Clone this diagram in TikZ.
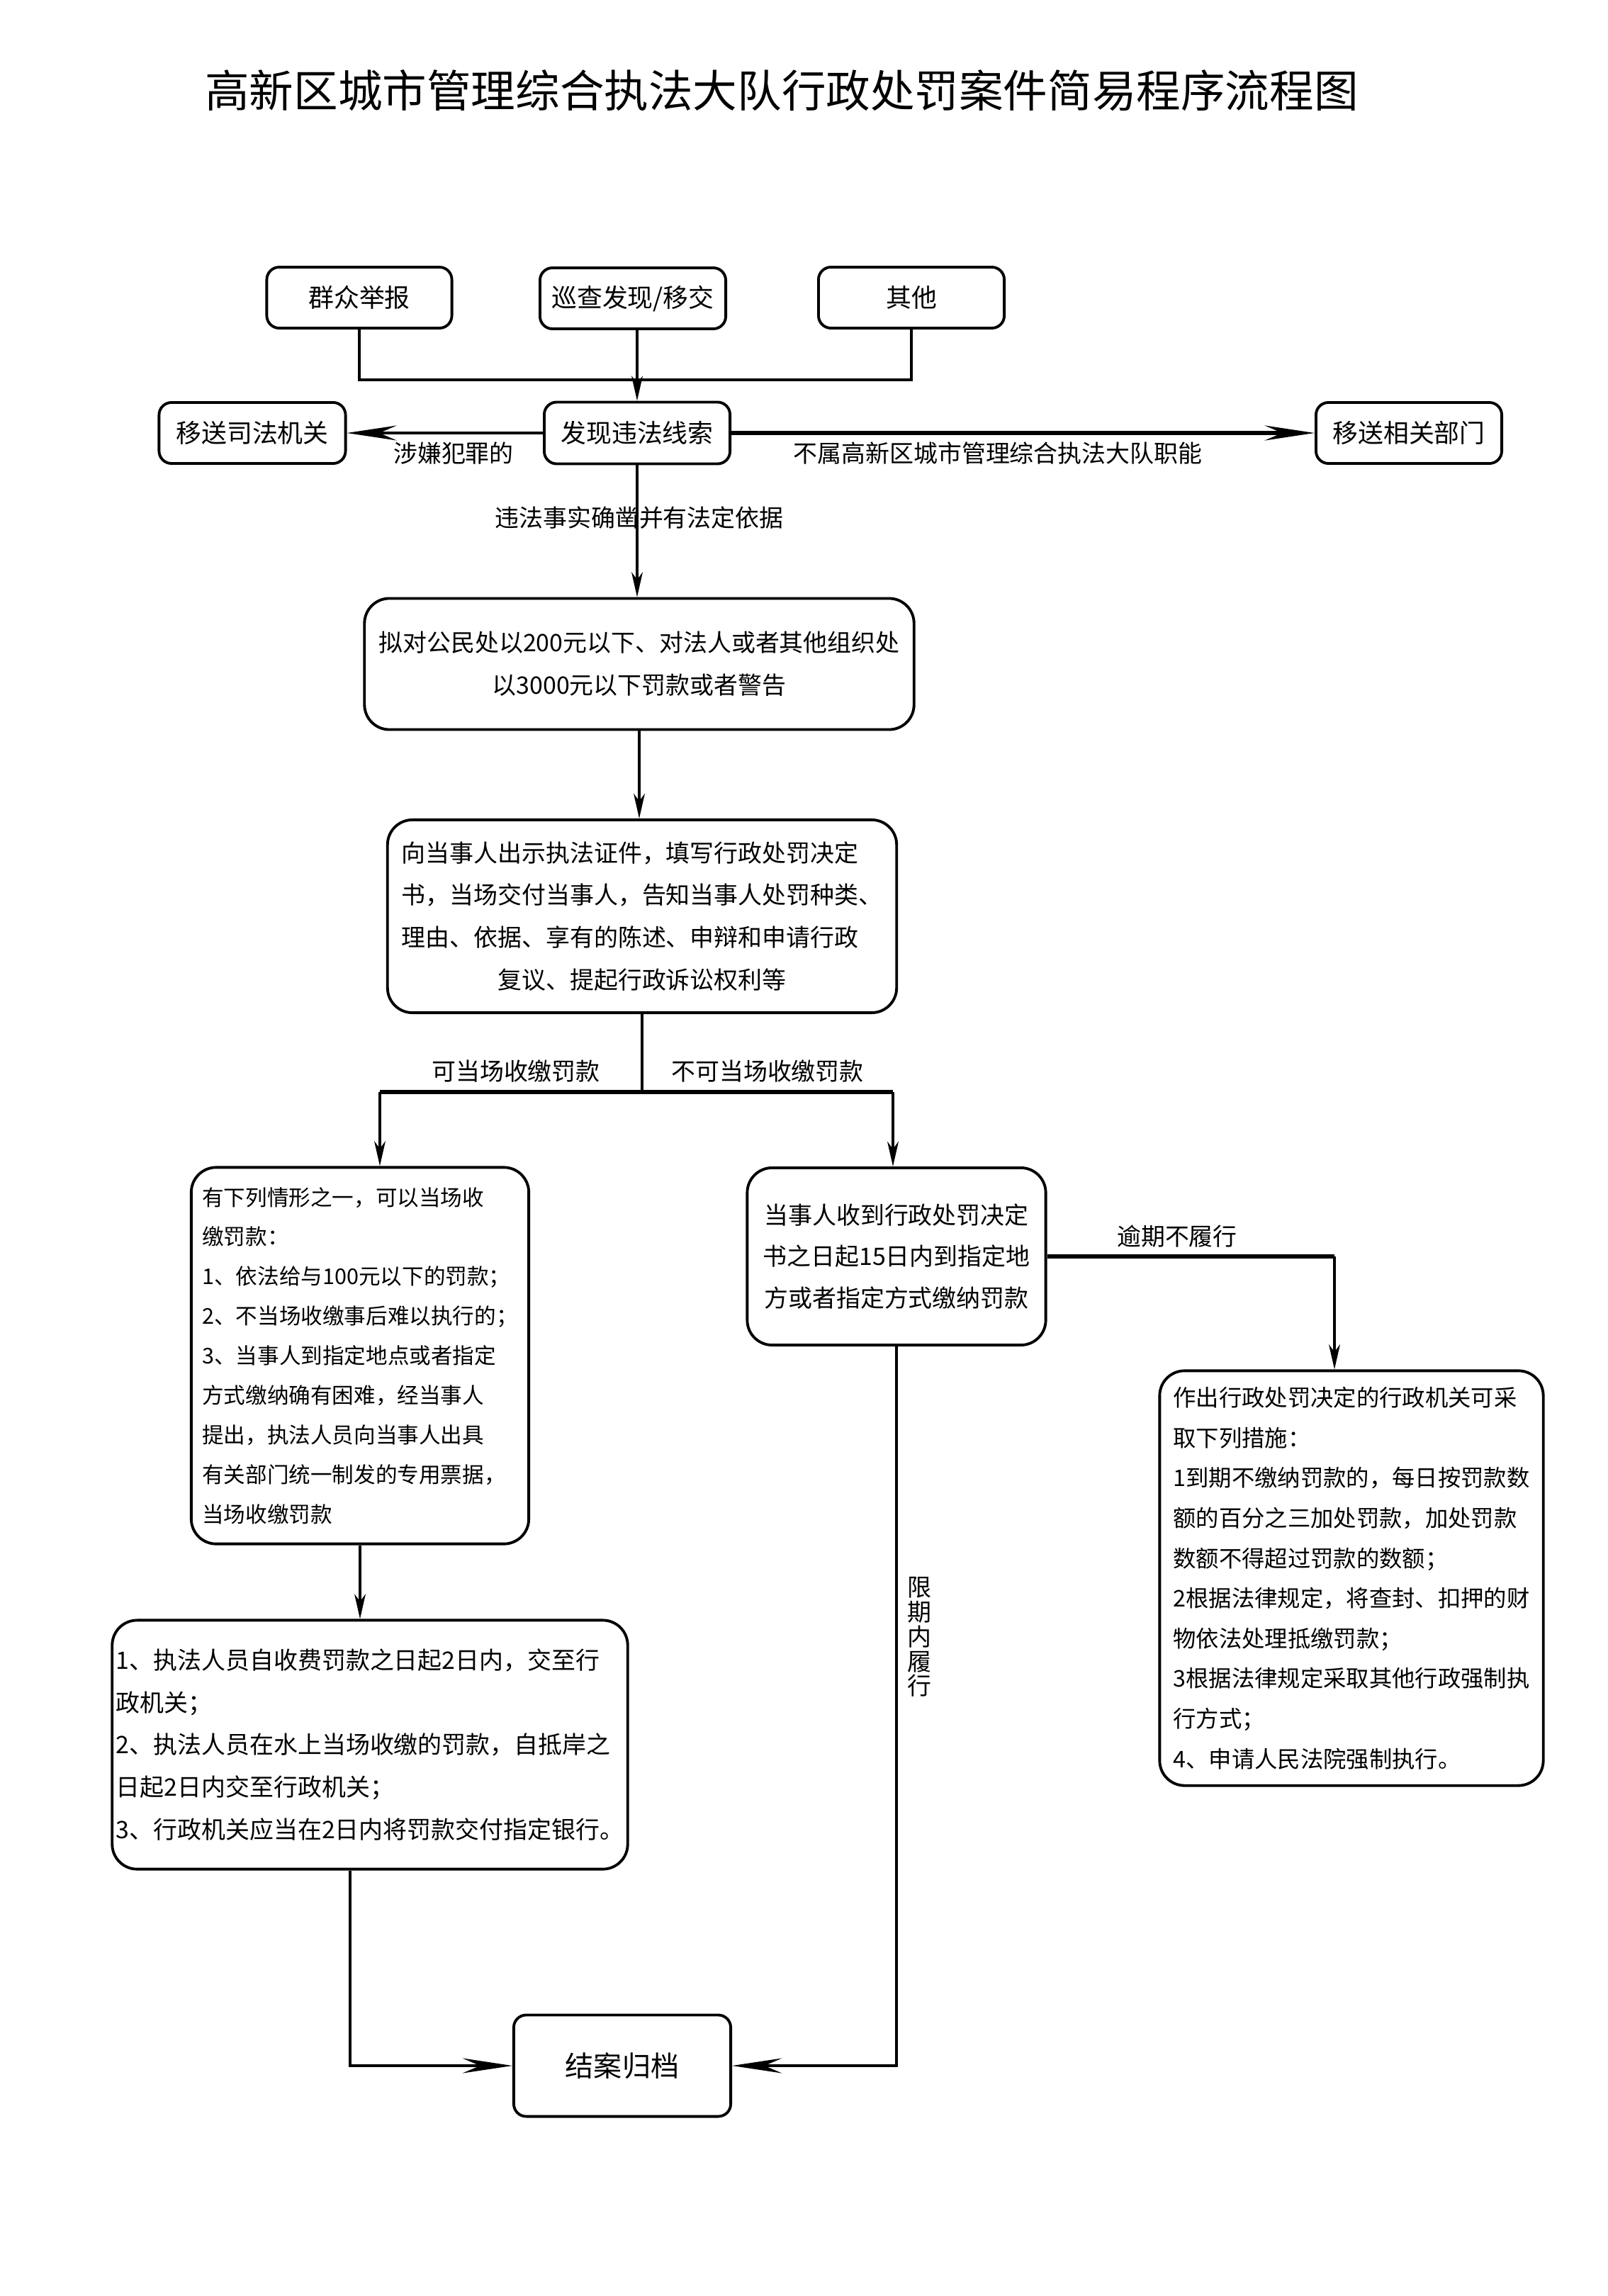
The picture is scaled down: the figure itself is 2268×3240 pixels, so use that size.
\documentclass[tikz,border=0pt]{standalone}
\usepackage{fontspec}
\usepackage{graphicx}
\newfontfamily\cjk{Noto Sans CJK SC}
\usetikzlibrary{arrows.meta}
\begin{document}
\begin{tikzpicture}[x=0.01cm,y=-0.01cm,
  box/.style={draw, line width=1.1pt, rounded corners=5pt, inner sep=0pt, font=\cjk\fontsize{10.2pt}{12pt}\selectfont},
  bigbox/.style={draw, line width=1.1pt, rounded corners=10pt, inner sep=0pt},
  lab/.style={inner sep=0pt, font=\cjk\fontsize{9.65pt}{12pt}\selectfont},
  ln/.style={line width=0.9pt},
  thk/.style={line width=1.7pt},
  arrS/.style={-{Stealth[length=10pt,width=4.5pt,inset=3pt]}},
  arrB/.style={-{Stealth[length=20pt,width=6pt,inset=7pt]}}
]
\useasboundingbox (0,0) rectangle (2268,3240);
\fill[white] (0,0) rectangle (2268,3240);

% title
\node[inner sep=0pt, font=\cjk\fontsize{17.8pt}{20pt}\selectfont] (title) at (1103,128) {高新区城市管理综合执法大队行政处罚案件简易程序流程图};

% top boxes
\node[box, minimum width=2.61cm, minimum height=0.86cm] (src1) at (507,420) {群众举报};
\node[box, minimum width=2.62cm, minimum height=0.86cm] (src2) at (893,421) {巡查发现/移交};
\node[box, minimum width=2.62cm, minimum height=0.86cm] (src3) at (1286,420) {其他};
\node[box, minimum width=2.62cm, minimum height=0.87cm] (find) at (899,611) {发现违法线索};
\node[box, minimum width=2.63cm, minimum height=0.86cm] (jud) at (356,611) {移送司法机关};
\node[box, minimum width=2.62cm, minimum height=0.86cm] (dept) at (1988,611) {移送相关部门};

% proposal box
\node[bigbox, minimum width=7.75cm, minimum height=1.85cm, align=center,
  font=\cjk\fontsize{9.65pt}{17pt}\selectfont] (prop) at (902,937)
  {拟对公民处以200元以下、对法人或者其他组织处\\以3000元以下罚款或者警告};

% notify box
\node[bigbox, minimum width=7.18cm, minimum height=2.72cm, align=left,
  font=\cjk\fontsize{9.65pt}{17pt}\selectfont] (notify) at (906,1293)
  {向当事人出示执法证件，填写行政处罚决定\\书，当场交付当事人，告知当事人处罚种类、\\理由、依据、享有的陈述、申辩和申请行政\\\hspace*{4em}复议、提起行政诉讼权利等};

% on-site box
\node[bigbox, minimum width=4.76cm, minimum height=5.31cm, align=left,
  font=\cjk\fontsize{8.7pt}{15.9pt}\selectfont] (onsite) at (508,1913)
  {有下列情形之一，可以当场收\\缴罚款：\\1、依法给与100元以下的罚款；\\2、不当场收缴事后难以执行的；\\3、当事人到指定地点或者指定\\方式缴纳确有困难，经当事人\\提出，执法人员向当事人出具\\有关部门统一制发的专用票据，\\当场收缴罚款};

% later payment box
\node[bigbox, minimum width=4.21cm, minimum height=2.50cm, align=center,
  font=\cjk\fontsize{9.65pt}{16.5pt}\selectfont] (later) at (1265,1773)
  {当事人收到行政处罚决定\\书之日起15日内到指定地\\方或者指定方式缴纳罚款};

% enforcement box
\node[bigbox, minimum width=5.41cm, minimum height=5.85cm, align=left,
  font=\cjk\fontsize{9.2pt}{16.1pt}\selectfont] (enforce) at (1907,2227)
  {作出行政处罚决定的行政机关可采\\取下列措施：\\1到期不缴纳罚款的，每日按罚款数\\额的百分之三加处罚款，加处罚款\\数额不得超过罚款的数额；\\2根据法律规定，将查封、扣押的财\\物依法处理抵缴罚款；\\3根据法律规定采取其他行政强制执\\行方式；\\4、申请人民法院强制执行。};

% remit box
\node[bigbox, minimum width=7.27cm, minimum height=3.51cm, align=left,
  font=\cjk\fontsize{9.65pt}{17pt}\selectfont] (remit) at (522,2462)
  {1、执法人员自收费罚款之日起2日内，交至行\\政机关；\\2、执法人员在水上当场收缴的罚款，自抵岸之\\日起2日内交至行政机关；\\3、行政机关应当在2日内将罚款交付指定银行。};

% close box
\node[box, minimum width=3.06cm, minimum height=1.43cm, font=\cjk\fontsize{11.4pt}{13pt}\selectfont] (close) at (878,2915) {结案归档};

% coordinates
\coordinate (jy) at (0,536);
\coordinate (by) at (0,1541);
\coordinate (bl) at (536,1541);
\coordinate (br) at (1260,1541);
\coordinate (ex) at (1883,0);
\coordinate (rx) at (494,0);

% connectors
\draw[ln] (src1.south) |- (find.north |- jy) -| (src3.south);
\draw[ln, arrS] (find.north |- src2.south) -- (find.north);
\draw[ln, arrB] (find.west) -- (jud.east);
\draw[thk, arrB] (find.east) -- (dept.west);
\draw[ln, arrS] (find.south) -- (find.south |- prop.north);
\draw[ln, arrS] (prop.south) -- (prop.south |- notify.north);
\draw[ln] (notify.south) -- (notify.south |- by);
\draw[thk] (bl) -- (br);
\draw[ln, arrS] (bl) -- (bl |- onsite.north);
\draw[ln, arrS] (br) -- (br |- later.north);
\draw[thk] (later.east) -- (later.east -| ex);
\draw[ln, arrS] (later.east -| ex) -- (ex |- enforce.north);
\draw[ln, arrS] (onsite.south) -- (onsite.south |- remit.north);
\draw[ln, arrB] (rx |- remit.south) |- (close.west);
\draw[ln, arrB] (later.south) |- (close.east);

% labels
\node[lab] (l1) at (640,640) {涉嫌犯罪的};
\node[lab] (l2) at (1408,640) {不属高新区城市管理综合执法大队职能};
\node[lab] (l3) at (902,731) {违法事实确凿并有法定依据};
\node[lab] (l4) at (728,1512) {可当场收缴罚款};
\node[lab] (l5) at (1083,1512) {不可当场收缴罚款};
\node[lab] (l6) at (1661,1745) {逾期不履行};
\node[lab, align=center, font=\cjk\fontsize{9.65pt}{9.9pt}\selectfont] (l7) at (1297,2310) {限\\期\\内\\履\\行};
\end{tikzpicture}
\end{document}
